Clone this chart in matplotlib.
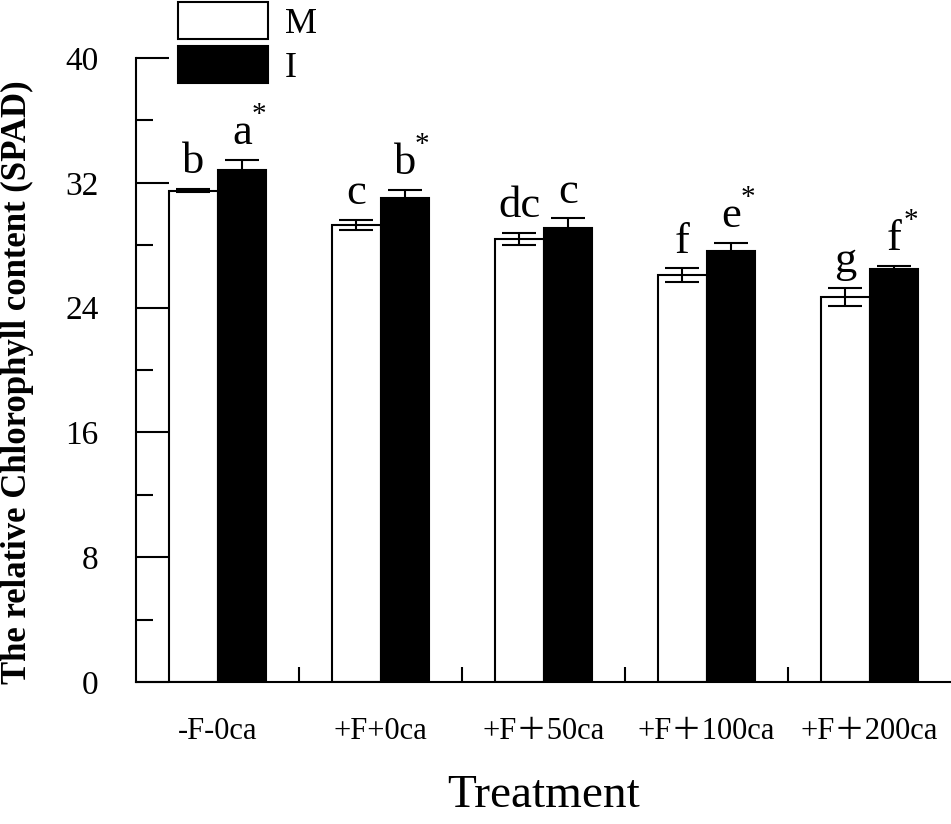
import matplotlib
matplotlib.use('Agg')
import matplotlib.pyplot as plt
import numpy as np

plt.rcParams['font.family'] = ['Liberation Serif', 'Noto Sans CJK SC', 'DejaVu Sans']

treatments = ['-F-0ca', '+F+0ca', '+F\uff0b50ca', '+F\uff0b100ca', '+F\uff0b200ca']
m_means = [31.5, 29.3, 28.4, 26.1, 24.7]
m_err = [0.12, 0.32, 0.40, 0.43, 0.57]
i_means = [32.8, 31.0, 29.1, 27.6, 26.5]
i_err = [0.68, 0.55, 0.62, 0.54, 0.17]
m_letters = ['b', 'c', 'dc', 'f', 'g']
i_letters = ['a', 'b', 'c', 'e', 'f']
i_star = [True, True, False, True, True]

fig = plt.figure(figsize=(9.51, 8.24), dpi=100)
ax = fig.add_axes([136/951, 1-682/824, 1-136/951, (682-58)/824])

x = np.arange(len(treatments))
w = 0.3

bm = ax.bar(x - w/2, m_means, w, color='white', edgecolor='black', linewidth=1.5, label='M')
bi = ax.bar(x + w/2, i_means, w, color='black', edgecolor='black', linewidth=1.5, label='I')
ax.errorbar(x - w/2, m_means, yerr=m_err, fmt='none', ecolor='black',
            elinewidth=1.5, capsize=12, capthick=1.5)
ax.errorbar(x + w/2, i_means, yerr=i_err, fmt='none', ecolor='black',
            elinewidth=1.5, capsize=12, capthick=1.5)

# significance letters
for k in range(len(x)):
    ax.text(x[k] - w/2, m_means[k] + m_err[k] + 1.0, m_letters[k],
            ha='center', va='baseline', fontsize=32)
    yb = i_means[k] + i_err[k] + 1.0
    ax.text(x[k] + w/2, yb, i_letters[k], ha='center', va='baseline', fontsize=32)
    if i_star[k]:
        ax.annotate('*', xy=(x[k] + w/2, yb), xytext=(12, 21), textcoords='offset points',
                    ha='center', va='center', fontsize=21)

ax.set_xlim(-0.5, 4.5)
ax.set_ylim(0, 40)
ax.spines['top'].set_visible(False)
ax.spines['right'].set_visible(False)
ax.spines['left'].set_linewidth(1.5)
ax.spines['bottom'].set_linewidth(1.5)

ax.set_yticks(np.arange(0, 41, 8))
ax.set_yticks(np.arange(0, 41, 4), minor=True)
ax.tick_params(axis='y', which='major', direction='in', length=24, width=1.5,
               labelsize=24, pad=27)
ax.tick_params(axis='y', which='minor', direction='in', length=12, width=1.5)

ax.set_xticks(x)
ax.set_xticklabels(treatments)
ax.set_xticks(x[:-1] + 0.5, minor=True)
ax.tick_params(axis='x', which='major', length=0, labelsize=22, pad=25)
ax.tick_params(axis='x', which='minor', direction='in', length=11, width=1.5)

ax.set_ylabel('The relative Chlorophyll content (SPAD)', fontsize=25, fontweight='bold')
ax.yaxis.set_label_coords(-0.125, 0.48)
ax.set_xlabel('Treatment', fontsize=34)
ax.xaxis.set_label_coords(0.5, -0.148)

ax.legend(handles=[bm, bi], loc='upper left', bbox_to_anchor=(178/951, 1-2/824),
          bbox_transform=fig.transFigure, frameon=False, borderpad=0, borderaxespad=0,
          handlelength=2.5, handleheight=1.2, labelspacing=0.15, handletextpad=0.45,
          fontsize=26)

plt.savefig('out.png', dpi=100)
